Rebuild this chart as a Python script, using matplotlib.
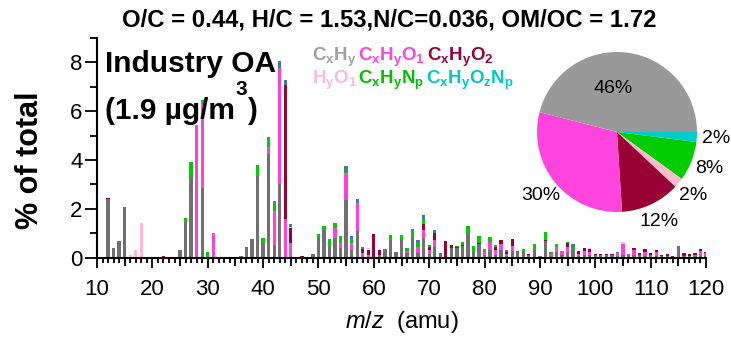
import matplotlib.pyplot as plt
import numpy as np

plt.rcParams["font.family"] = "Liberation Sans"
plt.rcParams["mathtext.fontset"] = "custom"
plt.rcParams["mathtext.rm"] = "Liberation Sans"
plt.rcParams["mathtext.it"] = "Liberation Sans:italic"
plt.rcParams["mathtext.bf"] = "Liberation Sans:bold"

W, H = 731, 342

# m/z 10 .. 120, one value per unit mass, in % of total
MZ = np.arange(10, 121)

CXHY = [
    0, 0, 2.40, 0.39, 0.69, 2.07, 0, 0, 0, 0,
    0, 0, 0, 0, 0, 0.32, 1.45, 3.26, 0, 2.85,
    0, 0, 0, 0, 0, 0, 0.05, 0.45, 0.77, 3.33,
    0.60, 4.26, 0.54, 3.03, 0, 0, 0, 0, 0, 0.14,
    0.86, 1.14, 0.48, 0.79, 0.38, 2.37, 0.32, 1.11, 0, 0,
    0.03, 0.10, 0.33, 0.73, 0.22, 0.75, 0.20, 0.86, 0.18, 0.79,
    0.15, 0.42, 0.12, 0, 0.38, 0.38, 0.48, 0.97, 0.25, 0.56,
    0.10, 0.32, 0.11, 0.32, 0.07, 0.29, 0.22, 0.25, 0.12, 0.30,
    0.07, 0.70, 0.05, 0.25, 0.10, 0.20, 0.33, 0.05, 0.10, 0.10,
    0.13, 0.10, 0.10, 0.10, 0.08, 0.13, 0.10, 0.10, 0.10, 0.08,
    0.12, 0.08, 0.06, 0.08, 0.04, 0.46, 0.05, 0.08, 0.06, 0.07,
    0.08,
]
CXHYO1 = [
    0, 0, 0, 0, 0, 0, 0, 0, 0, 0,
    0.03, 0, 0, 0, 0, 0, 0, 0, 5.45, 3.43,
    0, 1.00, 0, 0, 0, 0, 0, 0, 0, 0,
    0, 0.28, 1.36, 4.73, 1.59, 0.59, 0, 0, 0.03, 0,
    0, 0, 0, 0.42, 0.22, 1.10, 0.27, 1.12, 0.20, 0.10,
    0, 0, 0, 0, 0, 0, 0.08, 0, 0.27, 0.34,
    0.15, 0.30, 0, 0, 0, 0, 0, 0, 0, 0,
    0.14, 0.34, 0.20, 0.25, 0.08, 0.19, 0, 0, 0, 0,
    0, 0, 0.10, 0.18, 0.18, 0.25, 0, 0.12, 0.16, 0.15,
    0, 0, 0, 0, 0.12, 0.45, 0.05, 0.22, 0, 0.16,
    0, 0.14, 0, 0, 0, 0, 0, 0, 0.06, 0.22,
    0.10,
]
CXHYO2 = [
    0, 0, 0.04, 0, 0, 0, 0, 0, 0, 0.03,
    0, 0.03, 0.08, 0.03, 0.04, 0, 0, 0, 0, 0,
    0, 0, 0.03, 0.03, 0.03, 0.03, 0, 0, 0, 0,
    0, 0, 0, 0, 5.47, 0.62, 0.03, 0.07, 0, 0,
    0, 0, 0, 0, 0, 0, 0, 0, 0.15, 0.22,
    0.93, 0.22, 0, 0, 0.03, 0, 0, 0, 0, 0.27,
    0.12, 0.30, 0, 0.68, 0.14, 0.04, 0.04, 0, 0, 0.03,
    0, 0, 0.12, 0.15, 0.10, 0.27, 0, 0, 0.03, 0,
    0, 0.03, 0, 0, 0, 0.15, 0, 0.12, 0.12, 0.10,
    0.04, 0.05, 0.05, 0.05, 0, 0, 0, 0.06, 0.08, 0.10,
    0.06, 0.10, 0.05, 0.07, 0.03, 0.02, 0.15, 0.06, 0.08, 0.05,
    0.07,
]
HYO1 = [
    0, 0, 0, 0, 0, 0, 0.10, 0.32, 1.44, 0,
    0, 0, 0, 0, 0, 0, 0, 0, 0, 0,
    0, 0, 0, 0, 0, 0, 0, 0, 0, 0,
    0, 0, 0, 0, 0, 0.03, 0, 0, 0, 0,
    0, 0, 0, 0, 0, 0, 0, 0, 0, 0.06,
    0, 0, 0, 0, 0, 0, 0, 0, 0, 0,
    0, 0, 0, 0, 0, 0, 0, 0, 0, 0,
    0, 0, 0, 0, 0, 0, 0, 0, 0, 0,
    0, 0, 0, 0, 0, 0, 0, 0, 0, 0.03,
    0, 0, 0, 0, 0, 0.05, 0, 0, 0, 0,
    0, 0, 0, 0, 0, 0, 0, 0, 0, 0,
    0,
]
CXHYNP = [
    0, 0, 0, 0, 0, 0, 0, 0, 0, 0,
    0, 0, 0, 0, 0, 0, 0.17, 0.64, 0, 0.16,
    0.25, 0, 0, 0, 0, 0, 0, 0, 0, 0.45,
    0.20, 0.41, 0.34, 0, 0, 0, 0, 0, 0, 0,
    0.11, 0.16, 0.29, 0.20, 0.29, 0.05, 0.16, 0, 0, 0,
    0, 0, 0.03, 0.20, 0, 0.18, 0.10, 0.25, 0.16, 0.20,
    0.04, 0, 0, 0, 0, 0.06, 0.14, 0.33, 0.23, 0.30,
    0.10, 0.19, 0.07, 0, 0, 0, 0, 0.10, 0, 0.26,
    0, 0.33, 0.08, 0.12, 0, 0.05, 0.12, 0, 0, 0,
    0, 0, 0, 0, 0, 0, 0, 0, 0, 0,
    0, 0, 0, 0, 0, 0, 0, 0, 0, 0,
    0,
]
CXHYOZNP = [
    0, 0, 0, 0, 0, 0, 0, 0, 0, 0,
    0, 0, 0, 0, 0, 0, 0, 0, 0, 0,
    0, 0, 0, 0, 0, 0, 0, 0, 0, 0,
    0, 0, 0.09, 0.30, 0.20, 0.16, 0, 0, 0, 0,
    0, 0, 0, 0, 0, 0.22, 0.14, 0.17, 0.07, 0,
    0, 0, 0, 0, 0, 0, 0, 0.08, 0.10, 0.14,
    0.06, 0.11, 0.08, 0, 0, 0, 0, 0, 0, 0,
    0, 0, 0, 0, 0.07, 0, 0.05, 0, 0, 0,
    0, 0, 0, 0, 0, 0, 0.12, 0, 0, 0,
    0, 0, 0, 0, 0.05, 0, 0, 0, 0, 0,
    0, 0, 0, 0, 0, 0, 0, 0, 0, 0,
    0,
]

SERIES = [CXHY, CXHYO1, CXHYO2, HYO1, CXHYNP, CXHYOZNP]
BAR_COLORS = ["#707070", "#ff40dc", "#990033", "#ffbbd2", "#00cc00", "#3a7d9c"]

# pie of family fractions (%)
PIE_NAMES = ["CxHyOzNp", "CxHyNp", "HyO1", "CxHyO2", "CxHyO1", "CxHy"]
PIE_VALUES = [2, 8, 2, 12, 30, 46]
PIE_COLORS = ["#00cccc", "#00cc00", "#ffbbcc", "#990033", "#ff44dd", "#999999"]

LEGEND_LABELS = [
    r"C$_\mathbf{x}$H$_\mathbf{y}$",
    r"C$_\mathbf{x}$H$_\mathbf{y}$O$_\mathbf{1}$",
    r"C$_\mathbf{x}$H$_\mathbf{y}$O$_\mathbf{2}$",
    r"H$_\mathbf{y}$O$_\mathbf{1}$",
    r"C$_\mathbf{x}$H$_\mathbf{y}$N$_\mathbf{p}$",
    r"C$_\mathbf{x}$H$_\mathbf{y}$O$_\mathbf{z}$N$_\mathbf{p}$",
]
LEGEND_COLORS = ["#a0a0a0", "#ff44dd", "#990033", "#ffbbd0", "#00c000", "#00c8c8"]

fig = plt.figure(figsize=(W / 100, H / 100), dpi=100)
ax = fig.add_axes([97 / W, 1 - 257.7 / H, (706 - 97) / W, (257.7 - 38) / H])

bottom = np.zeros(len(MZ))
for vals, color in zip(SERIES, BAR_COLORS):
    vals = np.array(vals)
    ax.bar(MZ, vals, width=0.6, bottom=bottom, color=color, linewidth=0)
    bottom += vals

ax.set_xlim(10, 120)
ax.set_ylim(0, 9)
ax.set_xticks(np.arange(10, 121, 10))
ax.set_xticks(np.arange(10, 121, 1), minor=True)
ax.set_yticks([0, 2, 4, 6, 8])
ax.set_yticks([1, 3, 5, 7, 9], minor=True)
for s in ["top", "right"]:
    ax.spines[s].set_visible(False)
for s in ["left", "bottom"]:
    ax.spines[s].set_linewidth(1.5)
ax.tick_params(axis="both", which="both", direction="out", width=1.3, labelsize=16)
ax.tick_params(axis="x", which="major", length=7.5, pad=8)
ax.tick_params(axis="x", which="minor", length=3.6)
ax.tick_params(axis="y", which="major", length=8.5, pad=2)
ax.tick_params(axis="y", which="minor", length=5)

# medium ticks every 5 amu
sec = ax.secondary_xaxis("bottom")
sec.set_xticks(np.arange(15, 120, 10))
sec.tick_params(direction="out", length=5.5, width=1.3, labelbottom=False)
sec.spines["bottom"].set_visible(False)

ax.set_xlabel(r"$\mathit{m/z}$  (amu)", fontsize=17, labelpad=6)
fig.text(30 / W, 1 - 160 / H, "% of total", rotation=90, fontsize=22,
         fontweight="bold", ha="center", va="center")

fig.text(389 / W, 1 - 20 / H, "O/C = 0.44, H/C = 1.53,N/C=0.036, OM/OC = 1.72",
         fontsize=17.2, fontweight="bold", ha="center", va="center")
fig.text(105 / W, 1 - 72 / H, "Industry OA", fontsize=21.5, fontweight="bold",
         ha="left", va="baseline")

# "(1.9 µg/m3 )" with a high superscript
renderer = fig.canvas.get_renderer()
t1 = fig.text(105 / W, 1 - 119 / H, "(1.9 µg/m", fontsize=21.5,
              fontweight="bold", ha="left", va="baseline")
x_end = t1.get_window_extent(renderer).x1
t2 = fig.text((x_end + 1) / W, 1 - 95 / H, "3", fontsize=15,
              fontweight="bold", ha="left", va="baseline")
x_end = t2.get_window_extent(renderer).x1
fig.text((x_end - 1) / W, 1 - 119 / H, ")", fontsize=21.5,
         fontweight="bold", ha="left", va="baseline")

legend_pos = [(312, 61), (358, 61), (427, 61), (312, 84), (358, 84), (426, 84)]
for (lx, ly), lab, col in zip(legend_pos, LEGEND_LABELS, LEGEND_COLORS):
    fig.text(lx / W, 1 - ly / H, lab, color=col, fontsize=13.5,
             fontweight="bold", ha="left", va="baseline")

# pie inset
pax = fig.add_axes([(617 - 80) / W, 1 - (132 + 80) / H, 160 / W, 160 / H])
wedges, texts, autotexts = pax.pie(
    PIE_VALUES, colors=PIE_COLORS, startangle=0, counterclock=False,
    autopct="%d%%", pctdistance=1.24, radius=1.0,
    wedgeprops=dict(linewidth=0), textprops=dict(fontsize=14),
)
# the big slice keeps its label inside
w = wedges[-1]
ang = np.deg2rad((w.theta1 + w.theta2) / 2 + 12)
autotexts[-1].set_position((0.55 * np.cos(ang), 0.55 * np.sin(ang)))
pax.set_aspect("equal")
pax.set_xlim(-1, 1)
pax.set_ylim(-1, 1)

fig.savefig("out.png", dpi=100)
